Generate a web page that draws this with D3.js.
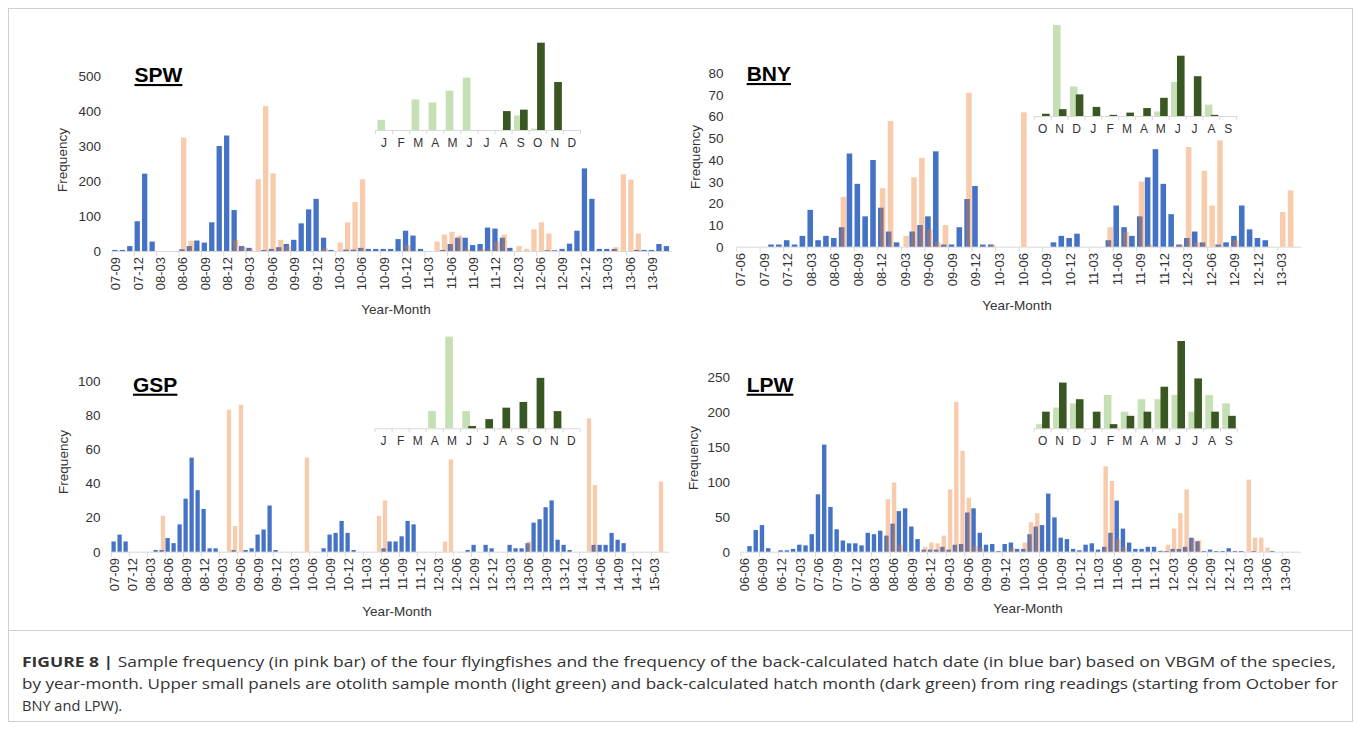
<!DOCTYPE html>
<html>
<head>
<meta charset="utf-8">
<script src="https://cdn.jsdelivr.net/npm/d3@7"></script>
<style>
  body { margin: 0; background: #fff; }
  svg { display: block; font-family: "Liberation Sans", Arial, sans-serif; }
</style>
</head>
<body>
<svg id="fig" width="1357" height="730"></svg>
<script>
// ---------- data ----------
// Builds "YY-MM" labels for consecutive months.
function monthLabels(yy, mm, n) {
  const out = [];
  for (let k = 0; k < n; k++) {
    const t = (mm - 1) + k;
    const y = yy + Math.floor(t / 12), m = (t % 12) + 1;
    out.push(String(y).padStart(2, "0") + "-" + String(m).padStart(2, "0"));
  }
  return out;
}

const lettersJan = ["J","F","M","A","M","J","J","A","S","O","N","D"];
const lettersOct = ["O","N","D","J","F","M","A","M","J","J","A","S"];

// SPW: 07-09 .. 13-11
const spwMonths = monthLabels(7, 9, 75);
const spwHatch = [3,3,14,85,221,27,0,0,0,5, 14,30,24,82,300,330,117,14,9,0,
  3,6,11,20,32,79,119,149,38,3, 0,4,4,9,6,6,6,6,34,58, 44,6,0,0,3,20,38,38,17,20,
  67,64,38,9,0,0,0,0,2,2, 6,21,58,236,149,6,6,6,0,0, 3,3,3,20,14];
const spwSample = [0,0,0,0,0,0,0,0,0, 324,29,0,0,0,0,0,32,11,5,
  205,414,222,32,15,0,0,0,0,8, 0,24,82,140,205,0,0,0,0,0, 17,0,0,0,27,47,55,44,6,0,
  6,4,27,47,0,14,6,62,82,50, 0,0,0,0,0,0,0,0,11,219, 204,50,0,0,0,0];
const spwInsetSample = [7,0,21,19,27,36,0,0,10,1,0,0];
const spwInsetHatch  = [0,0,0,0,0,0,0,13,14,60,33,0];

// BNY: 07-06 .. 13-05
const bnyMonths = monthLabels(7, 6, 72);
const bnyHatch = [0,0,0,0,1,1,3,1,5,17, 3,5,4,9,43,29,14,40,18,7,
  2,0,7,10,14,44,1,1,9,22, 28,1,1,0,0,0,0,0,0,0, 2,5,4,6,0,0,0,3,19,9,
  5,14,32,45,29,15,1,4,7,2, 0,1,2,5,19,8,4,3,0,0, 0,0];
const bnySample = [0,0,0,0,0,0,0,0,0,0, 0,0,0,23,0,0,0,0,27,58,
  0,5,32,41,8,2,10,0,0,71, 0,0,1,0,0,0,62,0,0,0, 0,0,0,0,0,0,0,9,0,7,
  0,30,1,0,0,0,1,46,2,35, 19,49,0,3,0,0,0,0,0,16, 26,0];
const bnyInsetSample = [0,80,26,0,0,0,0,4,30,0,10,0];
const bnyInsetHatch  = [2,6,19,8,1,3,7,16,53,35,1,0];

// GSP: 07-09 .. 15-05
const gspMonths = monthLabels(7, 9, 93);
const gspHatch = [6,10,6,0,0,0,0,1,1,8, 5,16,31,55,36,25,2,2,0,0,
  1,0,1,2,10,13,27,1,0,0, 0,0,0,0,0,2,10,11,18,11, 1,0,0,0,0,2,6,6,9,18,
  16,0,0,0,0,0,0,0,0,1, 4,0,4,2,0,0,4,2,2,5, 17,19,26,30,7,4,1,0,0,0,
  4,4,4,11,7,5,0,0,0,0, 0,0,0];
const gspSample = [0,0,0,0,0,0,0,0,21,0, 0,0,0,0,0,0,0,0,0,83,
  15,86,0,0,0,0,0,0,0,0, 0,0,55,0,0,0,0,0,0,0, 0,0,0,0,21,30,0,0,0,0,
  0,0,0,0,0,6,54,0,0,0, 0,0,0,0,0,0,0,0,0,6, 0,0,0,0,0,0,0,0,0,78,
  39,0,0,0,0,0,0,0,0,0, 0,41,0];
const gspInsetSample = [0,0,0,15,80,15,0,0,0,0,0,0];
const gspInsetHatch  = [0,0,0,0,0,2,8,18,23,44,15,0];

// LPW: 06-06 .. 13-11
const lpwMonths = monthLabels(6, 6, 90);
const lpwHatch = [0,8,31,38,5,0,2,2,4,10, 9,25,82,153,64,32,16,12,12,9,
  27,25,30,23,40,58,62,36,18,3, 3,3,7,3,10,11,56,62,27,10, 11,1,11,13,4,4,25,36,38,83,
  49,20,18,4,2,10,12,3,7,27, 73,33,13,4,4,7,7,1,1,4, 4,7,20,15,1,3,1,1,5,1,
  1,0,1,0,0,1,0,0,0,0];
const lpwSample = [0,0,0,0,0,0,0,0,0,0, 0,0,0,0,0,0,0,0,0,0,
  0,0,0,75,99,10,0,0,0,7, 13,12,23,89,214,144,77,8,5,0, 0,0,0,6,0,13,42,55,0,0,
  0,0,0,0,0,0,0,0,122,101, 18,7,0,0,0,0,0,2,10,33, 55,89,18,16,0,0,0,0,0,0,
  0,103,20,20,6,0,0,0,0,0];
const lpwInsetSample = [1,5,6,0,8,4,7,7,8,4,8,6];
const lpwInsetHatch  = [4,11,7,4,1,3,4,10,21,12,4,3];

const captionLines = [
  [{t: "FIGURE 8 | ", b: true}, {t: "Sample frequency (in pink bar) of the four flyingfishes and the frequency of the back-calculated hatch date (in blue bar) based on VBGM of the species,"}],
  [{t: "by year-month. Upper small panels are otolith sample month (light green) and back-calculated hatch month (dark green) from ring readings (starting from October for"}],
  [{t: "BNY and LPW)."}]
];

// ---------- styling ----------
const BLUE = "#4472C4", ORANGE = "#ED7D31";
const LIGHT_GREEN = "#C5E0B4", DARK_GREEN = "#385723";
const AXIS_GREY = "#D9D9D9", TEXT = "#333333";

const svg = d3.select("#fig");

// ---------- panels ----------
const panels = [
  { name: "SPW", months: spwMonths, hatch: spwHatch, sample: spwSample,
    x0: 112, x1: 671, y0: 251, yTop: 76, yMax: 500, yStep: 100,
    titleX: 134.5, titleY: 82, yLabX: 101, freqX: 62, freqY: 160,
    tickTop: 257, xTitleX: 396, xTitleY: 314,
    inset: { letters: lettersJan, sample: spwInsetSample, hatch: spwInsetHatch,
             x0: 375.5, x1: 580.5, base: 130, h: 87.3, max: 60, labY: 147 } },
  { name: "BNY", months: bnyMonths, hatch: bnyHatch, sample: bnySample,
    x0: 736.6, x1: 1301.5, y0: 246.7, yTop: 73.3, yMax: 80, yStep: 10,
    titleX: 746.7, titleY: 81, yLabX: 723.5, freqX: 695, freqY: 157,
    tickTop: 253, xTitleX: 1017, xTitleY: 310,
    inset: { letters: lettersOct, sample: bnyInsetSample, hatch: bnyInsetHatch,
             x0: 1034.3, x1: 1236.7, base: 116, h: 91, max: 80, labY: 133 } },
  { name: "GSP", months: gspMonths, hatch: gspHatch, sample: gspSample,
    x0: 111.3, x1: 669.3, y0: 551.7, yTop: 380.7, yMax: 100, yStep: 20,
    titleX: 133, titleY: 391.7, yLabX: 100.5, freqX: 63, freqY: 462,
    tickTop: 558, xTitleX: 397, xTitleY: 616,
    inset: { letters: lettersJan, sample: gspInsetSample, hatch: gspInsetHatch,
             x0: 375, x1: 580, base: 428.3, h: 91.7, max: 80, labY: 445 } },
  { name: "LPW", months: lpwMonths, hatch: lpwHatch, sample: lpwSample,
    x0: 740.9, x1: 1301, y0: 551.7, yTop: 376.7, yMax: 250, yStep: 50,
    titleX: 746.7, titleY: 391.7, yLabX: 730, freqX: 693, freqY: 458,
    tickTop: 558, xTitleX: 1028, xTitleY: 613,
    inset: { letters: lettersOct, sample: lpwInsetSample, hatch: lpwInsetHatch,
             x0: 1034.3, x1: 1237.3, base: 428.3, h: 87.3, max: 21, labY: 445 } }
];

panels.forEach(drawPanel);

function drawPanel(p) {
  const g = svg.append("g");
  const x = d3.scaleBand().domain(p.months).range([p.x0, p.x1]).padding(0);
  const y = d3.scaleLinear().domain([0, p.yMax]).range([p.y0, p.yTop]);
  const step = x.step();
  const w = step * 0.71, d = step * 0.23;

  // y tick labels only (no axis line / gridlines)
  const yAxis = d3.axisLeft(y).tickValues(d3.range(0, p.yMax + 1, p.yStep)).tickSize(0).tickPadding(0);
  const ya = g.append("g").attr("transform", `translate(${p.yLabX},0)`).call(yAxis);
  ya.select(".domain").remove();
  ya.selectAll("text").attr("fill", TEXT).style("font-size", "13.5px")
    .style("font-family", "'Liberation Sans', Arial, sans-serif");

  // category axis: light baseline, ticks every third month
  g.append("line").attr("x1", p.x0).attr("x2", p.x1).attr("y1", p.y0 + 0.5).attr("y2", p.y0 + 0.5)
    .attr("stroke", AXIS_GREY).attr("stroke-width", 1);
  const labelled = p.months.filter((m, i) => i % 3 === 0);
  g.selectAll("line.tk").data(labelled).join("line").attr("class", "tk")
    .attr("x1", m => x(m)).attr("x2", m => x(m))
    .attr("y1", p.y0).attr("y2", p.y0 + 5)
    .attr("stroke", AXIS_GREY);
  g.selectAll("text.xl").data(labelled).join("text").attr("class", "xl")
    .attr("transform", m => `translate(${x(m) + step / 2},${p.tickTop}) rotate(-90)`)
    .attr("text-anchor", "end").attr("dy", "0.35em")
    .attr("fill", TEXT).style("font-size", "13px")
    .text(m => m);

  // hatch-date bars (blue, behind)
  g.selectAll("rect.h").data(p.months).join("rect").attr("class", "h")
    .attr("x", (m) => x(m) + (step - w - d) / 2)
    .attr("width", w)
    .attr("y", (m, i) => y(p.hatch[i]))
    .attr("height", (m, i) => y(0) - y(p.hatch[i]))
    .attr("fill", BLUE);
  // sample bars (translucent orange, in front)
  g.selectAll("rect.s").data(p.months).join("rect").attr("class", "s")
    .attr("x", (m) => x(m) + (step - w - d) / 2 + d)
    .attr("width", w)
    .attr("y", (m, i) => y(p.sample[i]))
    .attr("height", (m, i) => y(0) - y(p.sample[i]))
    .attr("fill", ORANGE).attr("fill-opacity", 0.4);

  // titles
  g.append("text").attr("x", p.titleX).attr("y", p.titleY)
    .style("font-size", "21px").style("font-weight", "bold")
    .attr("text-decoration", "underline").attr("fill", "#000").text(p.name);
  g.append("text").attr("transform", `translate(${p.freqX},${p.freqY}) rotate(-90)`)
    .attr("text-anchor", "middle").attr("dy", "0.35em")
    .style("font-size", "13.5px").attr("fill", TEXT).text("Frequency");
  g.append("text").attr("x", p.xTitleX).attr("y", p.xTitleY)
    .attr("text-anchor", "middle").style("font-size", "13.5px").attr("fill", TEXT).text("Year-Month");

  drawInset(g, p.inset);
}

function drawInset(g, s) {
  const idx = d3.range(12);
  const x = d3.scaleBand().domain(idx).range([s.x0, s.x1]).padding(0);
  const y = d3.scaleLinear().domain([0, s.max]).range([s.base, s.base - s.h]);
  const st = x.step(), bw = st * 0.45;

  g.append("line").attr("x1", s.x0).attr("x2", s.x1).attr("y1", s.base + 0.5).attr("y2", s.base + 0.5)
    .attr("stroke", AXIS_GREY);
  g.selectAll(null).data(d3.range(13)).join("line")
    .attr("x1", k => s.x0 + k * st).attr("x2", k => s.x0 + k * st)
    .attr("y1", s.base).attr("y2", s.base + 4).attr("stroke", AXIS_GREY);

  g.selectAll(null).data(idx).join("rect")
    .attr("x", i => x(i) + st / 2 - 0.39 * st).attr("width", bw)
    .attr("y", i => y(s.sample[i])).attr("height", i => y(0) - y(s.sample[i]))
    .attr("fill", LIGHT_GREEN);
  g.selectAll(null).data(idx).join("rect")
    .attr("x", i => x(i) + st / 2 - 0.04 * st).attr("width", bw)
    .attr("y", i => y(s.hatch[i])).attr("height", i => y(0) - y(s.hatch[i]))
    .attr("fill", DARK_GREEN);

  g.selectAll(null).data(idx).join("text")
    .attr("x", i => x(i) + st / 2).attr("y", s.labY)
    .attr("text-anchor", "middle").style("font-size", "12px").attr("fill", TEXT)
    .text(i => s.letters[i]);
}

// ---------- frame and caption ----------
svg.append("rect").attr("x", 8.5).attr("y", 8.5).attr("width", 1344).attr("height", 713)
  .attr("fill", "none").attr("stroke", "#cfcfcf");
svg.append("line").attr("x1", 8.5).attr("x2", 1352.5).attr("y1", 630.5).attr("y2", 630.5)
  .attr("stroke", "#cfcfcf");

const cap = svg.append("g").style("font-family", "'Open Sans', 'Liberation Sans', sans-serif")
  .style("font-size", "14.6px").attr("fill", "#333");
const capY = [667, 689, 711];
const capLen = [1314, 1316, null];
captionLines.forEach((line, li) => {
  const t = cap.append("text").attr("x", 22).attr("y", capY[li]);
  if (capLen[li]) t.attr("textLength", capLen[li]).attr("lengthAdjust", "spacingAndGlyphs");
  line.forEach(seg => t.append("tspan").style("font-weight", seg.b ? "bold" : "normal").text(seg.t));
});
</script>
</body>
</html>
